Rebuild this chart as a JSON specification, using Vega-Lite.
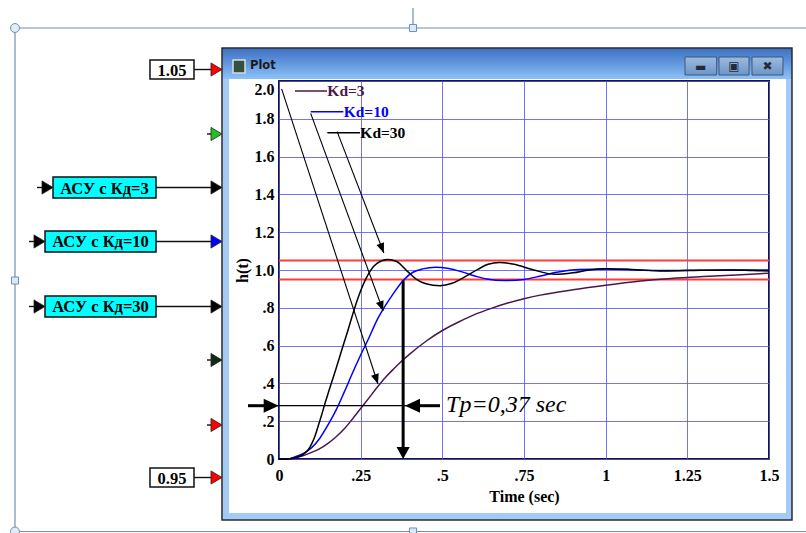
{
  "$schema": "https://vega.github.io/schema/vega-lite/v6.json",
  "width": 490,
  "height": 378,
  "autosize": {"type": "none"},
  "padding": {"left": 279, "top": 81, "right": 37, "bottom": 74},
  "background": "white",
  "config": {"view": {"stroke": "#1a1a1a", "strokeWidth": 2}},
  "encoding": {
    "x": {
      "field": "x", "type": "quantitative",
      "scale": {"domain": [0, 1.5], "nice": false, "zero": false},
      "axis": {
        "values": [0, 0.25, 0.5, 0.75, 1, 1.25, 1.5],
        "title": "Time (sec)",
        "labelExpr": "datum.value > 0 && datum.value < 1 ? substring(toString(datum.value), 1) : toString(datum.value)",
        "grid": true, "gridColor": "#5050ff", "gridOpacity": 0.8, "gridWidth": 1,
        "ticks": false, "domain": false, "labelFlush": false, "labelOverlap": false,
        "labelFont": "Liberation Serif", "labelFontWeight": "bold", "labelFontSize": 16, "labelColor": "#000", "labelPadding": 8,
        "titleFont": "Liberation Serif", "titleFontSize": 16, "titleFontWeight": "bold", "titleColor": "#000", "titlePadding": 5
      }
    },
    "y": {
      "field": "y", "type": "quantitative",
      "scale": {"domain": [0, 2], "nice": false, "zero": false},
      "axis": {
        "values": [0, 0.2, 0.4, 0.6, 0.8, 1, 1.2, 1.4, 1.6, 1.8, 2],
        "title": "h(t)",
        "labelExpr": "datum.value == 0 ? '0' : datum.value < 0.99 ? substring(format(datum.value, '.1f'), 1) : format(datum.value, '.1f')",
        "labelBaseline": {"condition": {"test": "datum.value > 1.9", "value": "top"}, "value": "middle"},
        "grid": true, "gridColor": "#5050ff", "gridOpacity": 0.8, "gridWidth": 1,
        "ticks": false, "domain": false, "labelOverlap": false,
        "labelFont": "Liberation Serif", "labelFontWeight": "bold", "labelFontSize": 16, "labelColor": "#000", "labelPadding": 5,
        "titleFont": "Liberation Serif", "titleFontSize": 16, "titleFontWeight": "bold", "titleColor": "#000", "titlePadding": 4
      }
    }
  },
  "datasets": {
    "curves": [
      {"kd": "Kd=3", "x": 0, "y": 0}, {"kd": "Kd=3", "x": 0.025, "y": 0}, {"kd": "Kd=3", "x": 0.05, "y": 0.008},
      {"kd": "Kd=3", "x": 0.075, "y": 0.018}, {"kd": "Kd=3", "x": 0.1, "y": 0.035}, {"kd": "Kd=3", "x": 0.125, "y": 0.055},
      {"kd": "Kd=3", "x": 0.15, "y": 0.083}, {"kd": "Kd=3", "x": 0.175, "y": 0.118}, {"kd": "Kd=3", "x": 0.2, "y": 0.16},
      {"kd": "Kd=3", "x": 0.225, "y": 0.212}, {"kd": "Kd=3", "x": 0.25, "y": 0.267}, {"kd": "Kd=3", "x": 0.275, "y": 0.322},
      {"kd": "Kd=3", "x": 0.3, "y": 0.378}, {"kd": "Kd=3", "x": 0.325, "y": 0.43}, {"kd": "Kd=3", "x": 0.35, "y": 0.475},
      {"kd": "Kd=3", "x": 0.375, "y": 0.517}, {"kd": "Kd=3", "x": 0.4, "y": 0.555}, {"kd": "Kd=3", "x": 0.45, "y": 0.623},
      {"kd": "Kd=3", "x": 0.5, "y": 0.68}, {"kd": "Kd=3", "x": 0.55, "y": 0.725}, {"kd": "Kd=3", "x": 0.6, "y": 0.765},
      {"kd": "Kd=3", "x": 0.65, "y": 0.797}, {"kd": "Kd=3", "x": 0.7, "y": 0.825}, {"kd": "Kd=3", "x": 0.75, "y": 0.848},
      {"kd": "Kd=3", "x": 0.8, "y": 0.867}, {"kd": "Kd=3", "x": 0.9, "y": 0.895}, {"kd": "Kd=3", "x": 1.0, "y": 0.919},
      {"kd": "Kd=3", "x": 1.1, "y": 0.94}, {"kd": "Kd=3", "x": 1.2, "y": 0.955}, {"kd": "Kd=3", "x": 1.3, "y": 0.965},
      {"kd": "Kd=3", "x": 1.4, "y": 0.973}, {"kd": "Kd=3", "x": 1.5, "y": 0.983},

      {"kd": "Kd=10", "x": 0, "y": 0}, {"kd": "Kd=10", "x": 0.025, "y": 0}, {"kd": "Kd=10", "x": 0.05, "y": 0.012},
      {"kd": "Kd=10", "x": 0.075, "y": 0.03}, {"kd": "Kd=10", "x": 0.1, "y": 0.06}, {"kd": "Kd=10", "x": 0.125, "y": 0.11},
      {"kd": "Kd=10", "x": 0.15, "y": 0.18}, {"kd": "Kd=10", "x": 0.175, "y": 0.26}, {"kd": "Kd=10", "x": 0.2, "y": 0.355},
      {"kd": "Kd=10", "x": 0.225, "y": 0.455}, {"kd": "Kd=10", "x": 0.25, "y": 0.55}, {"kd": "Kd=10", "x": 0.275, "y": 0.64},
      {"kd": "Kd=10", "x": 0.3, "y": 0.735}, {"kd": "Kd=10", "x": 0.325, "y": 0.81}, {"kd": "Kd=10", "x": 0.35, "y": 0.875},
      {"kd": "Kd=10", "x": 0.38, "y": 0.945}, {"kd": "Kd=10", "x": 0.41, "y": 0.988}, {"kd": "Kd=10", "x": 0.44, "y": 1.006},
      {"kd": "Kd=10", "x": 0.48, "y": 1.015}, {"kd": "Kd=10", "x": 0.52, "y": 1.008}, {"kd": "Kd=10", "x": 0.56, "y": 0.99},
      {"kd": "Kd=10", "x": 0.6, "y": 0.968}, {"kd": "Kd=10", "x": 0.636, "y": 0.952}, {"kd": "Kd=10", "x": 0.69, "y": 0.944},
      {"kd": "Kd=10", "x": 0.75, "y": 0.95}, {"kd": "Kd=10", "x": 0.8, "y": 0.968}, {"kd": "Kd=10", "x": 0.85, "y": 0.988},
      {"kd": "Kd=10", "x": 0.92, "y": 1.003}, {"kd": "Kd=10", "x": 1.0, "y": 1.005}, {"kd": "Kd=10", "x": 1.1, "y": 1.0},
      {"kd": "Kd=10", "x": 1.2, "y": 0.997}, {"kd": "Kd=10", "x": 1.3, "y": 0.999}, {"kd": "Kd=10", "x": 1.4, "y": 1.0},
      {"kd": "Kd=10", "x": 1.5, "y": 1.0},

      {"kd": "Kd=30", "x": 0, "y": 0}, {"kd": "Kd=30", "x": 0.025, "y": 0}, {"kd": "Kd=30", "x": 0.045, "y": 0.004},
      {"kd": "Kd=30", "x": 0.06, "y": 0.012}, {"kd": "Kd=30", "x": 0.075, "y": 0.025}, {"kd": "Kd=30", "x": 0.09, "y": 0.05},
      {"kd": "Kd=30", "x": 0.1, "y": 0.08}, {"kd": "Kd=30", "x": 0.11, "y": 0.12}, {"kd": "Kd=30", "x": 0.12, "y": 0.175},
      {"kd": "Kd=30", "x": 0.13, "y": 0.23}, {"kd": "Kd=30", "x": 0.14, "y": 0.29}, {"kd": "Kd=30", "x": 0.15, "y": 0.345},
      {"kd": "Kd=30", "x": 0.16, "y": 0.4}, {"kd": "Kd=30", "x": 0.175, "y": 0.48}, {"kd": "Kd=30", "x": 0.19, "y": 0.565},
      {"kd": "Kd=30", "x": 0.21, "y": 0.675}, {"kd": "Kd=30", "x": 0.23, "y": 0.79}, {"kd": "Kd=30", "x": 0.25, "y": 0.89},
      {"kd": "Kd=30", "x": 0.265, "y": 0.95}, {"kd": "Kd=30", "x": 0.28, "y": 0.997}, {"kd": "Kd=30", "x": 0.3, "y": 1.035},
      {"kd": "Kd=30", "x": 0.333, "y": 1.055}, {"kd": "Kd=30", "x": 0.36, "y": 1.045}, {"kd": "Kd=30", "x": 0.395, "y": 0.99},
      {"kd": "Kd=30", "x": 0.42, "y": 0.952}, {"kd": "Kd=30", "x": 0.45, "y": 0.927}, {"kd": "Kd=30", "x": 0.493, "y": 0.917},
      {"kd": "Kd=30", "x": 0.53, "y": 0.93}, {"kd": "Kd=30", "x": 0.57, "y": 0.965}, {"kd": "Kd=30", "x": 0.61, "y": 1.005},
      {"kd": "Kd=30", "x": 0.64, "y": 1.03}, {"kd": "Kd=30", "x": 0.675, "y": 1.04}, {"kd": "Kd=30", "x": 0.72, "y": 1.03},
      {"kd": "Kd=30", "x": 0.78, "y": 1.0}, {"kd": "Kd=30", "x": 0.845, "y": 0.977}, {"kd": "Kd=30", "x": 0.9, "y": 0.985},
      {"kd": "Kd=30", "x": 0.95, "y": 1.0}, {"kd": "Kd=30", "x": 1.0, "y": 1.007}, {"kd": "Kd=30", "x": 1.08, "y": 1.003},
      {"kd": "Kd=30", "x": 1.166, "y": 0.995}, {"kd": "Kd=30", "x": 1.25, "y": 0.997}, {"kd": "Kd=30", "x": 1.39, "y": 1.0},
      {"kd": "Kd=30", "x": 1.45, "y": 0.997}, {"kd": "Kd=30", "x": 1.5, "y": 0.995}
    ],
    "arrows": [
      {"id": 1, "x": 0.008, "y": 1.958, "x2": 0.303, "y2": 0.397},
      {"id": 2, "x": 0.097, "y": 1.829, "x2": 0.319, "y2": 0.783},
      {"id": 3, "x": 0.178, "y": 1.732, "x2": 0.321, "y2": 1.09}
    ],
    "boxes": [
      {"label": "1.05", "kind": "const", "x": -0.3949, "x2": -0.2602, "y": 2.0106, "y2": 2.1111, "xc": -0.3275, "yc": 2.0608},
      {"label": "АСУ с Кд=3", "kind": "block", "x": -0.6918, "x2": -0.3765, "y": 1.381, "y2": 1.4921, "xc": -0.5342, "yc": 1.4365},
      {"label": "АСУ с Кд=10", "kind": "block", "x": -0.7163, "x2": -0.3765, "y": 1.0952, "y2": 1.2063, "xc": -0.5464, "yc": 1.1508},
      {"label": "АСУ с Кд=30", "kind": "block", "x": -0.7163, "x2": -0.3765, "y": 0.7513, "y2": 0.8624, "xc": -0.5464, "yc": 0.8069},
      {"label": "0.95", "kind": "const", "x": -0.3949, "x2": -0.2602, "y": -0.1481, "y2": -0.0476, "xc": -0.3275, "yc": -0.0979}
    ]
  },
  "layer": [
    {
      "data": {"values": [
        {"x": -0.8082, "x2": 1.6132, "y": 2.2804, "y2": 2.2804},
        {"x": -0.8082, "x2": -0.8082, "y": 2.2804, "y2": -0.3836},
        {"x": -0.8082, "x2": 1.6132, "y": -0.3836, "y2": -0.3836},
        {"x": 0.4102, "x2": 0.4102, "y": 2.3862, "y2": 2.2804}
      ]},
      "mark": {"type": "rule", "color": "#6f8fb5", "strokeWidth": 1.2},
      "encoding": {"x2": {"field": "x2"}, "y2": {"field": "y2"}}
    },
    {
      "data": {"values": [{"x": -0.8082, "y": 2.2804}, {"x": -0.8082, "y": -0.3836}]},
      "mark": {"type": "point", "shape": "circle", "filled": true, "fill": "#e3ecf5", "stroke": "#6f8fb5", "strokeWidth": 1, "size": 80, "opacity": 1}
    },
    {
      "data": {"values": [{"x": 0.4102, "y": 2.2804}, {"x": -0.8082, "y": 0.9444}, {"x": 0.4102, "y": -0.3836}]},
      "mark": {"type": "point", "shape": "square", "filled": true, "fill": "#dbe8f5", "stroke": "#6f8fb5", "strokeWidth": 1, "size": 50, "opacity": 1}
    },
    {
      "data": {"values": [
        {"x": -0.1745, "x2": -0.1531, "y": -0.3228, "y2": 2.0106},
        {"x": 1.552, "x2": 1.5704, "y": -0.3228, "y2": 2.0106},
        {"x": -0.1745, "x2": 1.5704, "y": -0.3228, "y2": -0.2857}
      ]},
      "mark": {"type": "rect", "fill": "#a3cbf5", "strokeWidth": 0},
      "encoding": {"x2": {"field": "x2"}, "y2": {"field": "y2"}}
    },
    {
      "data": {"values": [{"x": -0.1745, "x2": 1.5704, "y": 2.0106, "y2": 2.1746}]},
      "mark": {"type": "rect", "strokeWidth": 0, "fill": {"gradient": "linear", "x1": 0, "y1": 0, "x2": 0, "y2": 1, "stops": [{"offset": 0, "color": "#3b6fc3"}, {"offset": 1, "color": "#8cc1f7"}]}},
      "encoding": {"x2": {"field": "x2"}, "y2": {"field": "y2"}}
    },
    {
      "data": {"values": [{"x": -0.1745, "x2": 1.5704, "y": -0.3228, "y2": 2.1746}]},
      "mark": {"type": "rect", "fillOpacity": 0, "stroke": "#2b2b2b", "strokeWidth": 1.5},
      "encoding": {"x2": {"field": "x2"}, "y2": {"field": "y2"}}
    },
    {
      "data": {"values": [{"x": -0.1408, "x2": -0.1041, "y": 2.0423, "y2": 2.1111}]},
      "mark": {"type": "rect", "fill": "#34503f", "stroke": "#d8dde0", "strokeWidth": 1.5},
      "encoding": {"x2": {"field": "x2"}, "y2": {"field": "y2"}}
    },
    {
      "data": {"values": [{"x": -0.0888, "y": 2.0794, "label": "Plot"}]},
      "mark": {"type": "text", "align": "left", "baseline": "middle", "font": "DejaVu Sans", "fontWeight": "bold", "fontSize": 11.5, "color": "#1a1a1a"},
      "encoding": {"text": {"field": "label"}}
    },
    {
      "data": {"values": [
        {"x": 1.2429, "x2": 1.3399, "y": 2.0317, "y2": 2.127},
        {"x": 1.3469, "x2": 1.4388, "y": 2.0317, "y2": 2.127},
        {"x": 1.448, "x2": 1.5428, "y": 2.0317, "y2": 2.127}
      ]},
      "mark": {"type": "rect", "stroke": "#3d5878", "strokeWidth": 1, "fill": {"gradient": "linear", "x1": 0, "y1": 0, "x2": 0, "y2": 1, "stops": [{"offset": 0, "color": "#9dbbe0"}, {"offset": 1, "color": "#6e94c6"}]}},
      "encoding": {"x2": {"field": "x2"}, "y2": {"field": "y2"}}
    },
    {
      "data": {"values": [
        {"x": 1.2912, "y": 2.075, "label": "▬"},
        {"x": 1.3928, "y": 2.0794, "label": "▣"},
        {"x": 1.4954, "y": 2.0794, "label": "✖"}
      ]},
      "mark": {"type": "text", "align": "center", "baseline": "middle", "font": "DejaVu Sans", "fontSize": 12, "color": "#1f2b3a"},
      "encoding": {"text": {"field": "label"}}
    },
    {
      "data": {"values": [
        {"x": -0.2602, "x2": -0.1898, "y": 2.0608, "y2": 2.0608},
        {"x": -0.2204, "x2": -0.1898, "y": 1.7196, "y2": 1.7196},
        {"x": -0.3765, "x2": -0.1898, "y": 1.4365, "y2": 1.4365},
        {"x": -0.3765, "x2": -0.1898, "y": 1.1508, "y2": 1.1508},
        {"x": -0.3765, "x2": -0.1898, "y": 0.8069, "y2": 0.8069},
        {"x": -0.2204, "x2": -0.1898, "y": 0.5238, "y2": 0.5238},
        {"x": -0.2204, "x2": -0.1898, "y": 0.1799, "y2": 0.1799},
        {"x": -0.2602, "x2": -0.1898, "y": -0.0979, "y2": -0.0979},
        {"x": -0.7408, "x2": -0.72, "y": 1.4365, "y2": 1.4365},
        {"x": -0.7653, "x2": -0.745, "y": 1.1508, "y2": 1.1508},
        {"x": -0.7653, "x2": -0.745, "y": 0.8069, "y2": 0.8069}
      ]},
      "mark": {"type": "rule", "color": "#111", "strokeWidth": 1.4},
      "encoding": {"x2": {"field": "x2"}, "y2": {"field": "y2"}}
    },
    {
      "data": {"name": "boxes"},
      "mark": {"type": "rect", "stroke": "#111", "strokeWidth": 1.5},
      "encoding": {
        "x2": {"field": "x2"}, "y2": {"field": "y2"},
        "fill": {"field": "kind", "type": "nominal", "legend": null,
          "scale": {"domain": ["const", "block", "red", "green", "blue", "black", "dark"], "range": ["#ffffff", "#00ffff", "#ff0000", "#22c022", "#0000ff", "#000000", "#0f2a12"]}}
      }
    },
    {
      "data": {"name": "boxes"},
      "mark": {"type": "text", "align": "center", "baseline": "middle", "font": "Liberation Serif", "fontWeight": "bold", "fontSize": 16.5, "color": "#000", "dy": 1},
      "encoding": {"x": {"field": "xc"}, "y": {"field": "yc"}, "text": {"field": "label"}}
    },
    {
      "data": {"values": [
        {"x": -0.1745, "y": 2.0608, "kind": "red"},
        {"x": -0.1745, "y": 1.7196, "kind": "green"},
        {"x": -0.1745, "y": 1.4365, "kind": "black"},
        {"x": -0.1745, "y": 1.1508, "kind": "blue"},
        {"x": -0.1745, "y": 0.8069, "kind": "black"},
        {"x": -0.1745, "y": 0.5238, "kind": "dark"},
        {"x": -0.1745, "y": 0.1799, "kind": "red"},
        {"x": -0.1745, "y": -0.0979, "kind": "red"},
        {"x": -0.6918, "y": 1.4365, "kind": "black"},
        {"x": -0.7163, "y": 1.1508, "kind": "black"},
        {"x": -0.7163, "y": 0.8069, "kind": "black"}
      ]},
      "mark": {"type": "point", "shape": "M0,0L-1,-0.6L-1,0.6Z", "size": 484, "filled": true, "opacity": 1, "stroke": "#222", "strokeWidth": 0.8},
      "encoding": {
        "fill": {"field": "kind", "type": "nominal", "legend": null,
          "scale": {"domain": ["const", "block", "red", "green", "blue", "black", "dark"], "range": ["#ffffff", "#00ffff", "#ff0000", "#22c022", "#0000ff", "#000000", "#0f2a12"]}}
      }
    },
    {
      "data": {"values": [{"x": 0, "x2": 1.5, "y": 1.05}, {"x": 0, "x2": 1.5, "y": 0.95}]},
      "mark": {"type": "rule", "color": "#ff3b3b", "strokeWidth": 2},
      "encoding": {"x2": {"field": "x2"}}
    },
    {
      "data": {"name": "curves"},
      "mark": {"type": "line", "strokeWidth": 1.5, "interpolate": "monotone"},
      "encoding": {
        "color": {"field": "kd", "type": "nominal", "legend": null,
          "scale": {"domain": ["Kd=3", "Kd=10", "Kd=30"], "range": ["#4a1848", "#0000ff", "#000000"]}}
      }
    },
    {
      "data": {"values": [
        {"kd": "Kd=3", "x": 0.049, "x2": 0.147, "y": 1.947},
        {"kd": "Kd=10", "x": 0.097, "x2": 0.197, "y": 1.8376},
        {"kd": "Kd=30", "x": 0.148, "x2": 0.248, "y": 1.7265}
      ]},
      "mark": {"type": "rule", "strokeWidth": 1.6},
      "encoding": {
        "x2": {"field": "x2"},
        "color": {"field": "kd", "type": "nominal", "legend": null,
          "scale": {"domain": ["Kd=3", "Kd=10", "Kd=30"], "range": ["#4a1848", "#0000ff", "#000000"]}}
      }
    },
    {
      "data": {"values": [
        {"kd": "Kd=3", "x": 0.148, "y": 1.947},
        {"kd": "Kd=10", "x": 0.198, "y": 1.8376},
        {"kd": "Kd=30", "x": 0.249, "y": 1.7265}
      ]},
      "mark": {"type": "text", "align": "left", "baseline": "middle", "font": "Liberation Serif", "fontWeight": "bold", "fontSize": 15.5},
      "encoding": {
        "text": {"field": "kd"},
        "color": {"field": "kd", "type": "nominal", "legend": null,
          "scale": {"domain": ["Kd=3", "Kd=10", "Kd=30"], "range": ["#4a1848", "#0000ff", "#000000"]}}
      }
    },
    {
      "data": {"name": "arrows"},
      "mark": {"type": "rule", "color": "#000", "strokeWidth": 1.1},
      "encoding": {"x2": {"field": "x2"}, "y2": {"field": "y2"}}
    },
    {
      "data": {"name": "arrows"},
      "transform": [{"filter": "datum.id == 1"}],
      "mark": {"type": "point", "shape": "M0,0L-0.4,-1L0.4,-1Z", "size": 400, "angle": -18.1, "filled": true, "color": "#000", "opacity": 1},
      "encoding": {"x": {"field": "x2"}, "y": {"field": "y2"}}
    },
    {
      "data": {"name": "arrows"},
      "transform": [{"filter": "datum.id == 2"}],
      "mark": {"type": "point", "shape": "M0,0L-0.4,-1L0.4,-1Z", "size": 400, "angle": -20.2, "filled": true, "color": "#000", "opacity": 1},
      "encoding": {"x": {"field": "x2"}, "y": {"field": "y2"}}
    },
    {
      "data": {"name": "arrows"},
      "transform": [{"filter": "datum.id == 3"}],
      "mark": {"type": "point", "shape": "M0,0L-0.4,-1L0.4,-1Z", "size": 400, "angle": -21.1, "filled": true, "color": "#000", "opacity": 1},
      "encoding": {"x": {"field": "x2"}, "y": {"field": "y2"}}
    },
    {
      "data": {"values": [{"x": -0.0949, "x2": 0.4928, "y": 0.282}]},
      "mark": {"type": "rule", "color": "#000", "strokeWidth": 1.2},
      "encoding": {"x2": {"field": "x2"}}
    },
    {
      "data": {"values": [{"x": -0.0949, "x2": -0.04, "y": 0.282}, {"x": 0.425, "x2": 0.4928, "y": 0.282}]},
      "mark": {"type": "rule", "color": "#000", "strokeWidth": 3},
      "encoding": {"x2": {"field": "x2"}}
    },
    {
      "data": {"values": [{"x": 0.38, "y": 0.945, "y2": 0.05}]},
      "mark": {"type": "rule", "color": "#000", "strokeWidth": 3},
      "encoding": {"y2": {"field": "y2"}}
    },
    {
      "data": {"values": [{"x": -0.001, "y": 0.282}]},
      "mark": {"type": "point", "shape": "M0,0L-1,-0.47L-1,0.47Z", "size": 900, "filled": true, "color": "#000", "opacity": 1}
    },
    {
      "data": {"values": [{"x": 0.3857, "y": 0.282}]},
      "mark": {"type": "point", "shape": "M0,0L1,-0.47L1,0.47Z", "size": 900, "filled": true, "color": "#000", "opacity": 1}
    },
    {
      "data": {"values": [{"x": 0.38, "y": 0}]},
      "mark": {"type": "point", "shape": "M0,0L-0.55,-1L0.55,-1Z", "size": 576, "filled": true, "color": "#000", "opacity": 1}
    },
    {
      "data": {"values": [{"x": 0.5115, "y": 0.2513, "label": "Tp=0,37 sec"}]},
      "mark": {"type": "text", "align": "left", "baseline": "alphabetic", "font": "Liberation Serif", "fontStyle": "italic", "fontSize": 24, "color": "#000"},
      "encoding": {"text": {"field": "label"}}
    }
  ]
}
